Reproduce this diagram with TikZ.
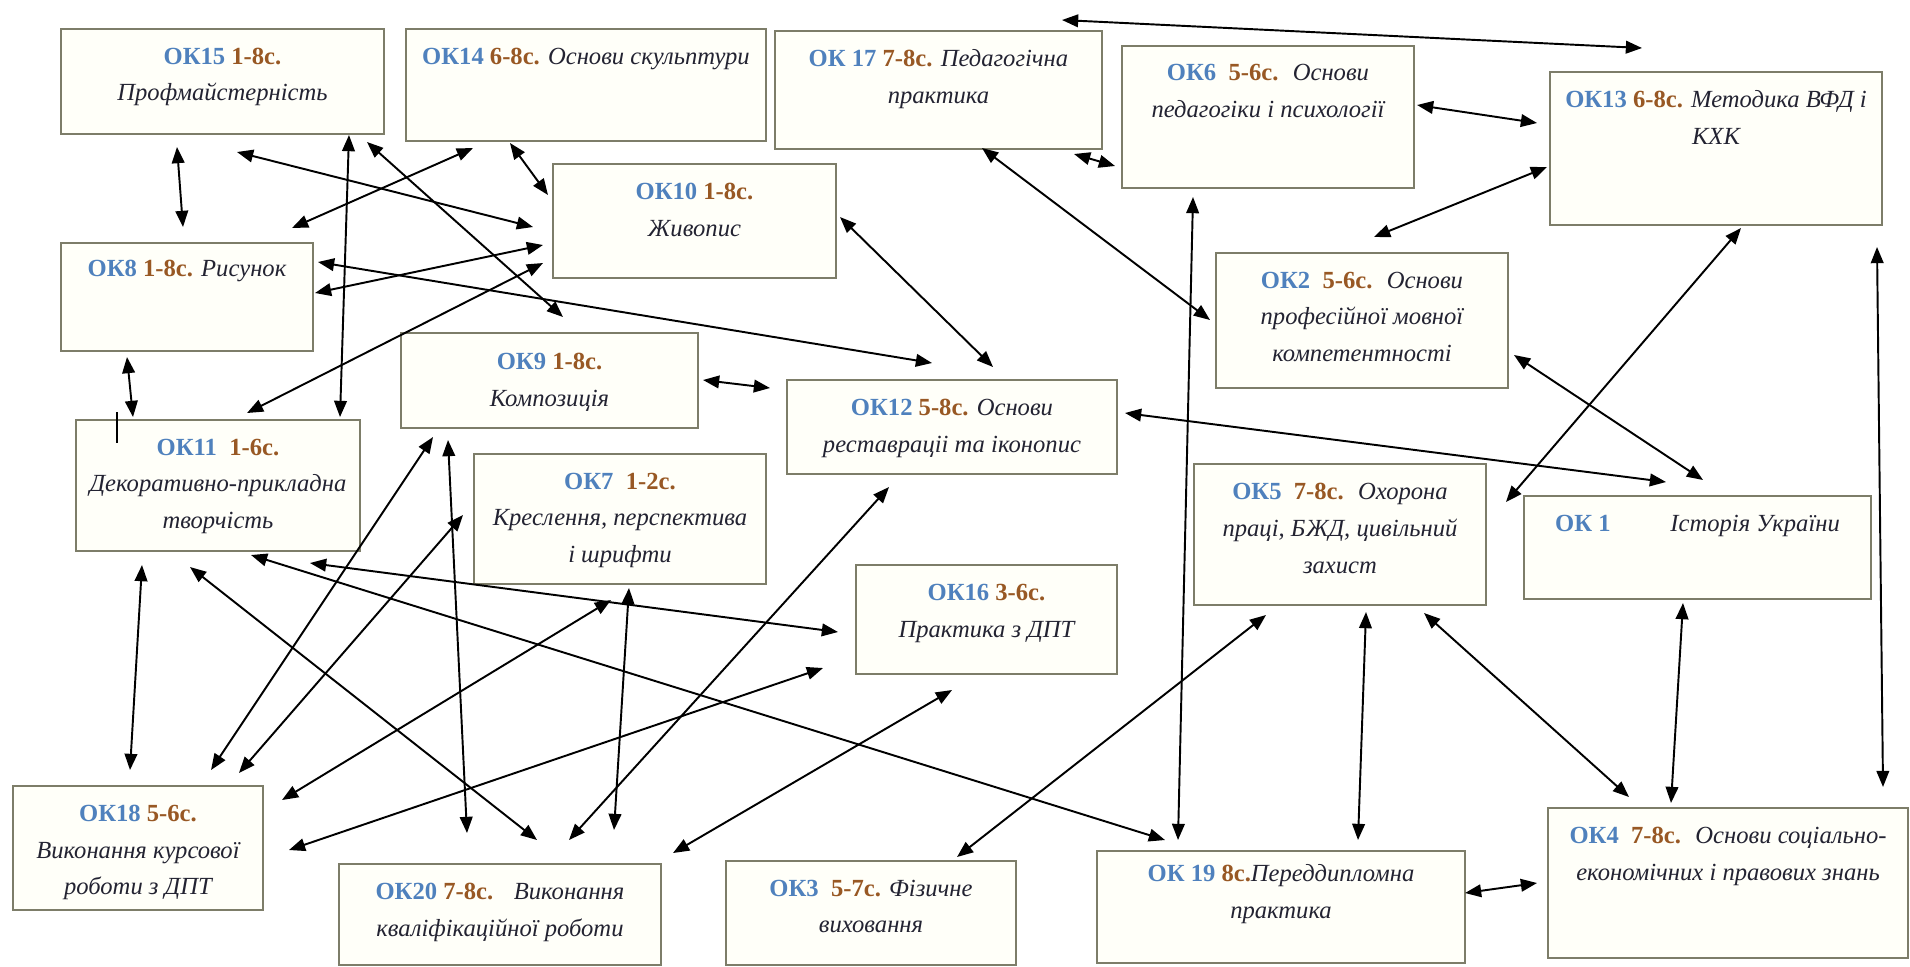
\documentclass[tikz,border=0pt]{standalone}
\usepackage{fontspec}
\setmainfont{Liberation Serif}
\usetikzlibrary{arrows.meta,positioning}

\definecolor{okblue}{RGB}{79,129,189}
\definecolor{okbrown}{RGB}{152,88,36}
\definecolor{oktext}{RGB}{35,35,50}
\definecolor{okframe}{RGB}{125,125,105}
\definecolor{okfill}{RGB}{255,255,249}

\newcommand{\okid}[1]{{\upshape\bfseries\color{okblue}#1}}
\newcommand{\oksem}[1]{{\upshape\bfseries\color{okbrown}#1}}

\tikzset{
  box/.style={draw=okframe, fill=okfill, line width=0.5pt, anchor=north west, inner sep=0pt},
  lbl/.style={align=center, font=\fontsize{7}{10.5}\selectfont\itshape, text=oktext, inner sep=0pt},
  link/.style={<->, >={Triangle[length=4.6pt, width=3.6pt]}, line width=0.55pt},
}

\begin{document}
\begin{tikzpicture}[x=0.01cm, y=-0.01cm]

\useasboundingbox (0,0) rectangle (1910,966) ;

\node[box, minimum width=3.23cm, minimum height=1.05cm] (ok15) at (60,28) {} ;
\node[box, minimum width=3.60cm, minimum height=1.12cm] (ok14) at (405,28) {} ;
\node[box, minimum width=3.27cm, minimum height=1.18cm] (ok17) at (774,30) {} ;
\node[box, minimum width=2.92cm, minimum height=1.42cm] (ok6) at (1121,45) {} ;
\node[box, minimum width=3.32cm, minimum height=1.53cm] (ok13) at (1549,71) {} ;
\node[box, minimum width=2.83cm, minimum height=1.14cm] (ok10) at (552,163) {} ;
\node[box, minimum width=2.52cm, minimum height=1.08cm] (ok8) at (60,242) {} ;
\node[box, minimum width=2.92cm, minimum height=1.35cm] (ok2) at (1215,252) {} ;
\node[box, minimum width=2.97cm, minimum height=0.95cm] (ok9) at (400,332) {} ;
\node[box, minimum width=3.30cm, minimum height=0.94cm] (ok12) at (786,379) {} ;
\node[box, minimum width=2.92cm, minimum height=1.30cm] (ok7) at (473,453) {} ;
\node[box, minimum width=2.84cm, minimum height=1.31cm] (ok11) at (75,419) {} ;
\node[box, minimum width=2.61cm, minimum height=1.09cm] (ok16) at (855,564) {} ;
\node[box, minimum width=2.92cm, minimum height=1.41cm] (ok5) at (1193,463) {} ;
\node[box, minimum width=3.47cm, minimum height=1.03cm] (ok1) at (1523,495) {} ;
\node[box, minimum width=2.50cm, minimum height=1.24cm] (ok18) at (12,785) {} ;
\node[box, minimum width=3.22cm, minimum height=1.01cm] (ok20) at (338,863) {} ;
\node[box, minimum width=2.90cm, minimum height=1.04cm] (ok3) at (725,860) {} ;
\node[box, minimum width=3.68cm, minimum height=1.12cm] (ok19) at (1096,850) {} ;
\node[box, minimum width=3.60cm, minimum height=1.50cm] (ok4) at (1547,807) {} ;

\node[lbl, below=5.4pt of ok15.north] (ok15t) {\okid{ОК15} \oksem{1-8с.}\\Профмайстерність} ;
\node[lbl, below=5.4pt of ok14.north] (ok14t) {\okid{ОК14} \oksem{6-8с.} Основи скульптури} ;
\node[lbl, below=5.4pt of ok17.north] (ok17t) {\okid{ОК 17} \oksem{7-8с.} Педагогічна\\практика} ;
\node[lbl, below=5.4pt of ok6.north] (ok6t) {\okid{ОК6}~ \oksem{5-6с.}~ Основи\\педагогіки і психології} ;
\node[lbl, below=5.4pt of ok13.north] (ok13t) {\okid{ОК13} \oksem{6-8с.} Методика ВФД і\\КХК} ;
\node[lbl, below=5.4pt of ok10.north] (ok10t) {\okid{ОК10} \oksem{1-8с.}\\Живопис} ;
\node[lbl, below=4.9pt of ok8.north] (ok8t) {\okid{ОК8} \oksem{1-8с.} Рисунок} ;
\node[lbl, below=5.4pt of ok2.north] (ok2t) {\okid{ОК2}~ \oksem{5-6с.}~ Основи\\професійної мовної\\компетентності} ;
\node[lbl, below=5.9pt of ok9.north] (ok9t) {\okid{ОК9} \oksem{1-8с.}\\Композиція} ;
\node[lbl, below=5.4pt of ok12.north] (ok12t) {\okid{ОК12} \oksem{5-8с.} Основи\\реставраціі та іконопис} ;
\node[lbl, below=5.4pt of ok7.north] (ok7t) {\okid{ОК7}~ \oksem{1-2с.}\\Креслення, перспектива\\і шрифти} ;
\node[lbl, below=5.4pt of ok11.north] (ok11t) {\okid{ОК11}~ \oksem{1-6с.}\\Декоративно-прикладна\\творчість} ;
\node[lbl, below=5.6pt of ok16.north] (ok16t) {\okid{ОК16} \oksem{3-6с.}\\Практика з ДПТ} ;
\node[lbl, below=5.6pt of ok5.north] (ok5t) {\okid{ОК5}~ \oksem{7-8с.}~ Охорона\\праці, БЖД, цивільний\\захист} ;
\node[lbl, below=5.4pt of ok1.north] (ok1t) {\okid{ОК 1}\hspace{17pt}Історія України} ;
\node[lbl, below=5.4pt of ok18.north] (ok18t) {\okid{ОК18} \oksem{5-6с.}\\Виконання курсової\\роботи з ДПТ} ;
\node[lbl, below=5.4pt of ok20.north] (ok20t) {\okid{ОК20} \oksem{7-8с.}~~ Виконання\\кваліфікаційної роботи} ;
\node[lbl, below=5.4pt of ok3.north] (ok3t) {\okid{ОК3}~ \oksem{5-7с.} Фізичне\\виховання} ;
\node[lbl, below=4pt of ok19.north] (ok19t) {\okid{ОК 19} \oksem{8с.}Переддипломна\\практика} ;
\node[lbl, below=5.4pt of ok4.north] (ok4t) {\okid{ОК4}~ \oksem{7-8с.}~ Основи соціально-\\економічних і правових знань} ;

\draw[link] ([shift={(288,-10)}]ok17.north west) -- ([shift={(93,-23)}]ok13.north west) ;

\draw[link] ([shift={(117,119)}]ok15.north west) -- ([shift={(123,-15)}]ok8.north west) ;
\draw[link] ([shift={(177,124)}]ok15.north west) -- ([shift={(-19,64)}]ok10.north west) ;
\draw[link] ([shift={(289,107)}]ok15.north west) -- ([shift={(265,-2)}]ok11.north west) ;
\draw[link] ([shift={(307,114)}]ok15.north west) -- ([shift={(163,-15)}]ok9.north west) ;
\draw[link] ([shift={(68,120)}]ok14.north west) -- ([shift={(232,-14)}]ok8.north west) ;
\draw[link] ([shift={(105,115)}]ok14.north west) -- ([shift={(-4,32)}]ok10.north west) ;
\draw[link] ([shift={(258,20)}]ok8.north west) -- ([shift={(146,-16)}]ok12.north west) ;
\draw[link] ([shift={(255,51)}]ok8.north west) -- ([shift={(-9,82)}]ok10.north west) ;
\draw[link] ([shift={(172,-6)}]ok11.north west) -- ([shift={(-9,100)}]ok10.north west) ;
\draw[link] ([shift={(67,115)}]ok8.north west) -- ([shift={(58,-2)}]ok11.north west) ;
\draw[link] ([shift={(288,54)}]ok10.north west) -- ([shift={(207,-12)}]ok12.north west) ;
\draw[link] ([shift={(303,48)}]ok9.north west) -- ([shift={(-16,9)}]ok12.north west) ;

\draw[link] ([shift={(208,118)}]ok17.north west) -- ([shift={(-5,68)}]ok2.north west) ;
\draw[link] ([shift={(300,124)}]ok17.north west) -- ([shift={(-6,121)}]ok6.north west) ;
\draw[link] ([shift={(296,60)}]ok6.north west) -- ([shift={(-12,52)}]ok13.north west) ;
\draw[link] ([shift={(-2,96)}]ok13.north west) -- ([shift={(159,-15)}]ok2.north west) ;
\draw[link] ([shift={(72,152)}]ok6.north west) -- ([shift={(82,-10)}]ok19.north west) ;
\draw[link] ([shift={(192,157)}]ok13.north west) -- ([shift={(313,39)}]ok5.north west) ;
\draw[link] ([shift={(328,176)}]ok13.north west) -- ([shift={(336,-20)}]ok4.north west) ;
\draw[link] ([shift={(339,34)}]ok12.north west) -- ([shift={(143,-13)}]ok1.north west) ;
\draw[link] ([shift={(299,103)}]ok2.north west) -- ([shift={(180,-15)}]ok1.north west) ;
\draw[link] ([shift={(160,108)}]ok1.north west) -- ([shift={(124,-4)}]ok4.north west) ;
\draw[link] ([shift={(173,149)}]ok5.north west) -- ([shift={(262,-10)}]ok19.north west) ;
\draw[link] ([shift={(231,150)}]ok5.north west) -- ([shift={(82,-10)}]ok4.north west) ;
\draw[link] ([shift={(369,43)}]ok19.north west) -- ([shift={(-10,76)}]ok4.north west) ;
\draw[link] ([shift={(73,152)}]ok5.north west) -- ([shift={(232,-3)}]ok3.north west) ;

\draw[link] ([shift={(176,136)}]ok11.north west) -- ([shift={(69,-10)}]ok19.north west) ;
\draw[link] ([shift={(235,144)}]ok11.north west) -- ([shift={(-17,68)}]ok16.north west) ;
\draw[link] ([shift={(115,148)}]ok11.north west) -- ([shift={(199,-23)}]ok20.north west) ;
\draw[link] ([shift={(67,146)}]ok11.north west) -- ([shift={(118,-15)}]ok18.north west) ;
\draw[link] ([shift={(33,105)}]ok9.north west) -- ([shift={(199,-15)}]ok18.north west) ;
\draw[link] ([shift={(-10,62)}]ok7.north west) -- ([shift={(227,-12)}]ok18.north west) ;
\draw[link] ([shift={(138,147)}]ok7.north west) -- ([shift={(270,15)}]ok18.north west) ;
\draw[link] ([shift={(-32,104)}]ok16.north west) -- ([shift={(277,65)}]ok18.north west) ;
\draw[link] ([shift={(48,108)}]ok9.north west) -- ([shift={(129,-30)}]ok20.north west) ;
\draw[link] ([shift={(103,108)}]ok12.north west) -- ([shift={(231,-23)}]ok20.north west) ;
\draw[link] ([shift={(156,135)}]ok7.north west) -- ([shift={(276,-33)}]ok20.north west) ;
\draw[link] ([shift={(97,126)}]ok16.north west) -- ([shift={(335,-10)}]ok20.north west) ;

\draw[line width=0.55pt] ([shift={(42,-7)}]ok11.north west) -- ([shift={(42,24)}]ok11.north west) ;

\end{tikzpicture}
\end{document}
